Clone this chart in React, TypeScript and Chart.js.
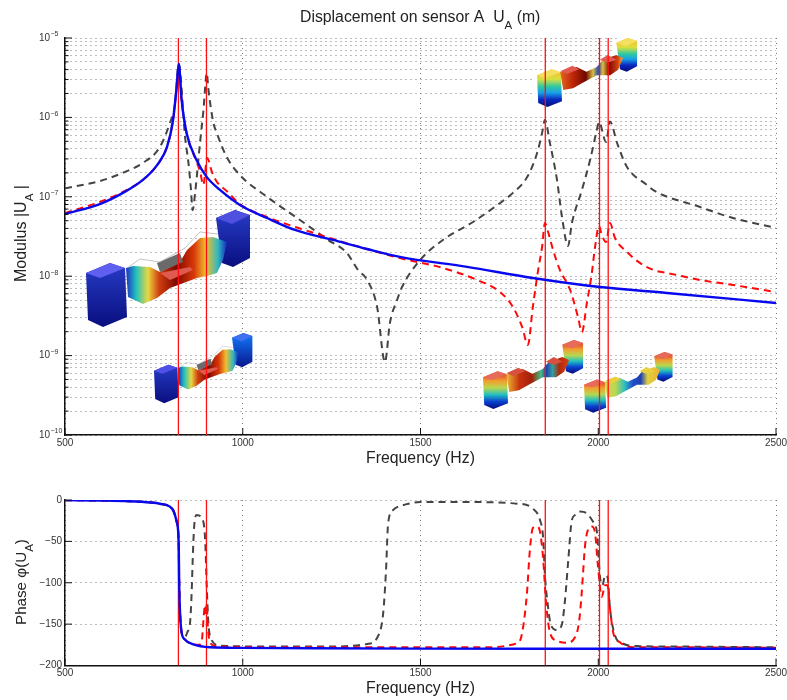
import React, { useEffect, useRef } from "react";
import { Chart, registerables } from "chart.js";

Chart.register(...registerables);

const xTickValues = [500, 1000, 1500, 2000, 2500];
const resonanceFreqs = [819, 898, 1851, 2003.5, 2028];

const modulusTicks = [
  1e-10, 2e-10, 3e-10, 4e-10, 5e-10, 6e-10, 7e-10, 8e-10, 9e-10,
  1e-9, 2e-9, 3e-9, 4e-9, 5e-9, 6e-9, 7e-9, 8e-9, 9e-9,
  1e-8, 2e-8, 3e-8, 4e-8, 5e-8, 6e-8, 7e-8, 8e-8, 9e-8,
  1e-7, 2e-7, 3e-7, 4e-7, 5e-7, 6e-7, 7e-7, 8e-7, 9e-7,
  1e-6, 2e-6, 3e-6, 4e-6, 5e-6, 6e-6, 7e-6, 8e-6, 9e-6,
  1e-5,
];
const modulusDecades = [1e-10, 1e-9, 1e-8, 1e-7, 1e-6, 1e-5];
const decadeExponents = ["\u221210", "\u22129", "\u22128", "\u22127", "\u22126", "\u22125"];
const phaseTicks = [-200, -150, -100, -50, 0];

const blueModFreq = [500, 598, 663, 719, 759, 787, 804, 814, 820, 828, 842, 870, 899, 936, 992, 1068, 1147, 1254, 1350, 1442, 1631, 1816, 2005, 2193, 2500];
const blueMod = [6.07e-8, 8.1e-8, 1.12e-7, 1.63e-7, 2.51e-7, 4.24e-7, 9.27e-7, 2.41e-6, 4.7e-6, 1.66e-6, 6.36e-7, 2.9e-7, 1.77e-7, 1.22e-7, 7.9e-8, 5.41e-8, 3.82e-8, 2.86e-8, 2.2e-8, 1.75e-8, 1.31e-8, 9.5e-9, 7.3e-9, 6.14e-9, 4.6e-9];

const redModFreq = [500, 598, 663, 719, 759, 787, 804, 814, 820, 828, 842, 868, 880, 889, 900, 913, 927, 955, 992, 1068, 1161, 1254, 1358, 1442, 1563, 1659, 1724, 1760, 1786, 1802, 1816, 1831, 1842, 1850, 1859, 1873, 1892, 1921, 1943, 1954, 1968, 1982, 1991, 2002, 2010, 2022, 2033, 2047, 2081, 2117, 2165, 2193, 2286, 2379, 2500];
const redMod = [6.25e-8, 8.6e-8, 1.15e-7, 1.63e-7, 2.51e-7, 4.24e-7, 9.27e-7, 2.41e-6, 4.7e-6, 1.66e-6, 6.36e-7, 2.9e-7, 2.07e-7, 1.41e-7, 3.08e-7, 2.07e-7, 1.55e-7, 1.18e-7, 8.1e-8, 5.57e-8, 3.99e-8, 2.94e-8, 2.14e-8, 1.69e-8, 1.27e-8, 8.96e-9, 6.32e-9, 4.09e-9, 2.29e-9, 1.36e-9, 4.09e-9, 1.2e-8, 2.33e-8, 4.68e-8, 3.6e-8, 2.14e-8, 1.2e-8, 6.7e-9, 3.06e-9, 1.98e-9, 4.6e-9, 1.1e-8, 2.33e-8, 4.29e-8, 3.3e-8, 2.7e-8, 4.68e-8, 3.03e-8, 2.02e-8, 1.47e-8, 1.16e-8, 1.1e-8, 8.96e-9, 7.75e-9, 6.32e-9];

const blackModFreq = [500, 598, 663, 719, 767, 795, 809, 820, 838, 847, 854, 859, 866, 880, 889, 899, 903, 917, 927, 955, 992, 1068, 1161, 1240, 1293, 1324, 1350, 1378, 1400, 1414, 1434, 1448, 1499, 1563, 1648, 1724, 1760, 1800, 1828, 1842, 1850, 1864, 1884, 1898, 1915, 1926, 1954, 1977, 1996, 2002, 2022, 2033, 2053, 2081, 2137, 2154, 2286, 2379, 2500];
const blackMod = [1.28e-7, 1.58e-7, 2.01e-7, 2.67e-7, 4.24e-7, 8.5e-7, 1.43e-6, 4.7e-6, 5.5e-7, 2.74e-7, 1.29e-7, 6.8e-8, 1.12e-7, 4.9e-7, 1.17e-6, 3.62e-6, 2.34e-6, 8.75e-7, 6.36e-7, 3.17e-7, 1.88e-7, 1e-7, 5.1e-8, 2.86e-8, 1.96e-8, 1.2e-8, 8.96e-9, 4.09e-9, 8.3e-10, 2.58e-9, 5e-9, 7.3e-9, 1.6e-8, 2.86e-8, 4.82e-8, 8.36e-8, 1.12e-7, 1.77e-7, 3.56e-7, 6.36e-7, 9.3e-7, 4.76e-7, 1.63e-7, 5.57e-8, 2.4e-8, 4.68e-8, 1.22e-7, 2.9e-7, 6.94e-7, 8.75e-7, 4.9e-7, 8.9e-7, 4.76e-7, 2.37e-7, 1.41e-7, 1.22e-7, 7.44e-8, 5.41e-8, 4.05e-8];

const bluePhaseFreq = [500, 600, 680, 740, 767, 795, 805, 814, 820, 821, 823.5, 828, 837, 861, 908, 1000, 1200, 1500, 2000, 2500];
const bluePhase = [-0.2, -0.7, -1.5, -3, -4.5, -8, -13, -26, -55, -95, -135, -160, -168.5, -174.5, -178, -178.7, -179.2, -179.6, -179.7, -179.8];

const redPhaseFreq = [500, 600, 680, 740, 767, 795, 805, 814, 820, 821, 823.5, 828, 837, 861, 875, 884, 894, 897, 899, 901, 908, 922, 1100, 1704, 1743, 1771, 1780, 1788, 1799, 1808, 1816, 1827, 1836, 1845, 1853, 1864, 1883, 1911, 1935, 1946, 1953, 1963, 1971, 1982, 1991, 1999, 2010, 2019, 2026, 2033, 2042, 2061, 2098, 2193, 2500];
const redPhase = [-0.2, -0.7, -1.5, -3, -4.5, -8, -13, -26, -55, -95, -135, -160, -168.5, -174.5, -175, -172, -127, -139, -125, -147, -172, -176.5, -178, -178, -176, -173, -170, -155.6, -115, -58.6, -34, -32, -38, -71, -123, -160, -170, -172.5, -165.6, -147.5, -115, -54.5, -36, -32, -40, -79, -117, -103, -103, -131, -160, -172, -178, -178, -178.5];

const blackPhaseFreq = [500, 600, 680, 740, 767, 795, 805, 814, 820, 821, 823.5, 828, 838, 844, 852, 856, 859, 863, 870, 885, 894, 899, 903, 910, 936, 1068, 1254, 1350, 1380, 1395, 1403, 1409, 1423, 1462, 1499, 1631, 1771, 1816, 1836, 1845, 1850, 1857, 1866, 1883, 1897, 1906, 1916, 1925, 1935, 1949, 1967, 1985, 1996, 2005, 2012, 2019, 2026, 2033, 2047, 2070, 2108, 2193, 2500];
const blackPhase = [-0.2, -0.7, -1.5, -3, -4.5, -8, -13, -26, -55, -95, -135, -160, -165, -160, -147, -115, -75, -34, -18, -22, -46, -107, -147, -167, -176, -177, -177, -174, -165, -137, -85, -28, -12, -5, -2.5, -2.5, -4.4, -10.4, -24, -46, -91, -123, -149.5, -157, -151.5, -123, -71, -26, -18, -14, -16, -26, -38, -93, -103, -91, -93, -131, -163.6, -173.7, -176.5, -177, -178];

const FONT = '"Liberation Sans", Arial, sans-serif';
const TEXT = "#222";
const TICK_TEXT = "#333";
const GRID = "#7a7a7a";
const GRID_DASH = [1, 4];

Chart.defaults.font.family = FONT;

const zip = (xs: number[], ys: number[]) => xs.map((x, i) => ({ x, y: ys[i] }));

function curve(label: string, xs: number[], ys: number[], color: string, width: number, dash: number[], order: number) {
  return {
    label,
    data: zip(xs, ys),
    borderColor: color,
    borderWidth: width,
    borderDash: dash,
    cubicInterpolationMode: "monotone" as const,
    pointRadius: 0,
    fill: false,
    order,
  };
}

function verticals(yMin: number, yMax: number) {
  return resonanceFreqs.map((f, i) => ({
    label: "mode " + (i + 1),
    data: [{ x: f, y: yMin }, { x: f, y: yMax }],
    borderColor: "#ff1010",
    borderWidth: 1.3,
    pointRadius: 0,
    fill: false,
    order: 1,
  }));
}

type Part = { t: string; sub?: boolean };

function richText(ctx: CanvasRenderingContext2D, parts: Part[], x: number, y: number, size: number, subSize: number, drop: number) {
  let cx = x;
  ctx.textAlign = "left";
  ctx.textBaseline = "alphabetic";
  ctx.fillStyle = TEXT;
  for (const p of parts) {
    ctx.font = `${p.sub ? subSize : size}px ${FONT}`;
    ctx.fillText(p.t, cx, p.sub ? y + drop : y);
    cx += ctx.measureText(p.t).width;
  }
}

function rotatedLabel(ctx: CanvasRenderingContext2D, parts: Part[], x: number, y: number, size: number) {
  ctx.save();
  ctx.translate(x, y);
  ctx.rotate(-Math.PI / 2);
  richText(ctx, parts, 0, 0, size, 11.5, 7);
  ctx.restore();
}

function innerTicks(chart: any) {
  const { ctx, scales, chartArea } = chart;
  ctx.save();
  ctx.strokeStyle = "#111";
  ctx.lineWidth = 1;
  ctx.setLineDash([]);
  for (const t of scales.x.ticks) {
    const px = scales.x.getPixelForValue(t.value);
    ctx.beginPath();
    ctx.moveTo(px, chartArea.bottom);
    ctx.lineTo(px, chartArea.bottom - 7);
    ctx.stroke();
  }
  const isLog = scales.y.type === "logarithmic";
  for (const t of scales.y.ticks) {
    const py = scales.y.getPixelForValue(t.value);
    const major = !isLog || modulusDecades.some((d) => Math.abs(d - t.value) < d * 1e-6);
    ctx.beginPath();
    ctx.moveTo(chartArea.left, py);
    ctx.lineTo(chartArea.left + (major ? 7 : 3.5), py);
    ctx.stroke();
  }
  ctx.restore();
}

// Pictures of the deformed structure (finite-element mode shapes) set inside the top plot.
type Stops = [number, string][];
type Inset = {
  tx: number; ty: number; sx: number; sy: number;
  leftFront: Stops; rightFront: Stops; leftTop: string; rightTop: string;
  beam: Stops; narrow: boolean; plate: string; ghost: boolean;
};

const BLUE_BLOCK: Stops = [[0, "#2438c0"], [1, "#0a0f80"]];
const RAINBOW_Y: Stops = [[0, "#f6c030"], [0.2, "#d8e040"], [0.42, "#30c8a0"], [0.6, "#18a0e8"], [0.8, "#0a28c0"], [1, "#061080"]];
const RAINBOW_R: Stops = [[0, "#e04a30"], [0.2, "#f0a030"], [0.4, "#b8d850"], [0.6, "#20c0c0"], [0.8, "#0a40d0"], [1, "#061080"]];

const insets: Inset[] = [
  { tx: 0, ty: 0, sx: 1, sy: 1, leftFront: BLUE_BLOCK, rightFront: BLUE_BLOCK, leftTop: "#6060f0", rightTop: "#5050e0", narrow: false, plate: "#e05a50", ghost: true,
    beam: [[0, "#2030c0"], [0.1, "#20c0c0"], [0.22, "#e8d840"], [0.33, "#d04010"], [0.5, "#800800"], [0.68, "#d83808"], [0.8, "#f0c030"], [0.92, "#30b8c0"], [1, "#1838c0"]] },
  { tx: 154 - 86 * 0.6, ty: 333 - 210 * 0.6, sx: 0.6, sy: 0.6, leftFront: BLUE_BLOCK, rightFront: [[0, "#1070f0"], [1, "#0a1890"]], leftTop: "#5050e8", rightTop: "#4070f0", narrow: false, plate: "#e05a50", ghost: true,
    beam: [[0, "#2030c0"], [0.1, "#20c0c0"], [0.22, "#e8d840"], [0.33, "#d04010"], [0.5, "#800800"], [0.68, "#d83808"], [0.8, "#f0c030"], [0.92, "#30b8c0"], [1, "#1838c0"]] },
  { tx: 537 - 86 * 0.61, ty: 38 - 210 * 0.59, sx: 0.61, sy: 0.59, leftFront: RAINBOW_Y, rightFront: RAINBOW_Y, leftTop: "#f4e060", rightTop: "#f4e060", narrow: true, plate: "#e05a50", ghost: false,
    beam: [[0, "#e06020"], [0.18, "#c02808"], [0.4, "#700800"], [0.52, "#d8c040"], [0.6, "#2050c0"], [0.68, "#d8c040"], [0.78, "#800800"], [0.92, "#d04010"], [1, "#f0a030"]] },
  { tx: 483 - 86 * 0.61, ty: 340 - 210 * 0.59, sx: 0.61, sy: 0.59, leftFront: RAINBOW_R, rightFront: RAINBOW_R, leftTop: "#e86a5a", rightTop: "#e86a5a", narrow: true, plate: "#d85040", ghost: false,
    beam: [[0, "#e8b030"], [0.2, "#c83010"], [0.4, "#a02008"], [0.55, "#40c080"], [0.64, "#2040b0"], [0.74, "#30a0a0"], [0.85, "#b02808"], [1, "#d84010"]] },
  { tx: 584 - 86 * 0.54, ty: 352 - 210 * 0.52, sx: 0.54, sy: 0.52, leftFront: RAINBOW_R, rightFront: RAINBOW_R, leftTop: "#e86a5a", rightTop: "#e86a5a", narrow: true, plate: "#e8d040", ghost: false,
    beam: [[0, "#e0d050"], [0.18, "#b8d850"], [0.35, "#30c0c0"], [0.5, "#2050c8"], [0.65, "#2040b0"], [0.78, "#e0d040"], [1, "#f0b030"]] },
];

const LEFT_BLOCK = [[86, 273], [110, 263], [125, 268], [127, 317], [103, 327], [88, 320]];
const LEFT_TOP = [[86, 273], [110, 263], [125, 268], [100, 278]];
const RIGHT_BLOCK = [[216, 218], [235, 210], [250, 215], [250, 258], [233, 267], [222, 263]];
const RIGHT_TOP = [[216, 218], [235, 210], [250, 215], [232, 224]];
const WIDE_BEAM = [[126, 268], [133, 266], [150, 267], [160, 272], [180, 262], [187, 250], [200, 238], [213, 237], [227, 242], [223, 260], [217, 273], [207, 276], [197, 278], [170, 288], [157, 298], [143, 304], [128, 297]];
const NARROW_BEAM = [[124, 267], [151, 259], [167, 267], [184, 259], [194, 247], [216, 239], [227, 244], [219, 264], [206, 273], [184, 273], [161, 286], [145, 295], [129, 298]];
const GREY_PLATE = [[157, 263], [180, 253], [183, 262], [160, 272]];
const RED_PLATE = [[160, 273], [190, 267], [193, 270], [170, 280]];
const PLATE_L = [[125, 266], [144, 257], [155, 263], [135, 271]];
const PLATE_R = [[189, 247], [202, 239], [217, 247], [201, 252]];
const GHOST = [[127, 268], [140, 259], [160, 262], [185, 248], [200, 232], [218, 234]];

function poly(ctx: CanvasRenderingContext2D, pts: number[][]) {
  ctx.beginPath();
  pts.forEach((p, i) => (i ? ctx.lineTo(p[0], p[1]) : ctx.moveTo(p[0], p[1])));
  ctx.closePath();
}

function gradient(ctx: CanvasRenderingContext2D, x0: number, y0: number, x1: number, y1: number, stops: Stops) {
  const g = ctx.createLinearGradient(x0, y0, x1, y1);
  stops.forEach(([o, c]) => g.addColorStop(o, c));
  return g;
}

function drawInset(ctx: CanvasRenderingContext2D, n: Inset) {
  ctx.save();
  ctx.transform(n.sx, 0, 0, n.sy, n.tx, n.ty);
  ctx.filter = "blur(0.6px)";
  ctx.lineJoin = "round";
  if (!n.ghost) {
    ctx.strokeStyle = "rgba(255,255,255,0.95)";
    ctx.lineWidth = 9;
    for (const s of [LEFT_BLOCK, RIGHT_BLOCK, NARROW_BEAM]) {
      poly(ctx, s);
      ctx.stroke();
    }
  }
  ctx.fillStyle = gradient(ctx, 0, 268, 0, 326, n.leftFront);
  poly(ctx, LEFT_BLOCK);
  ctx.fill();
  ctx.fillStyle = gradient(ctx, 0, 216, 0, 266, n.rightFront);
  poly(ctx, RIGHT_BLOCK);
  ctx.fill();
  ctx.fillStyle = n.leftTop;
  poly(ctx, LEFT_TOP);
  ctx.fill();
  ctx.fillStyle = n.rightTop;
  poly(ctx, RIGHT_TOP);
  ctx.fill();
  ctx.fillStyle = gradient(ctx, 126, 0, 226, 0, n.beam);
  poly(ctx, n.narrow ? NARROW_BEAM : WIDE_BEAM);
  ctx.fill();
  if (n.narrow) {
    ctx.fillStyle = n.plate;
    poly(ctx, PLATE_L);
    ctx.fill();
    poly(ctx, PLATE_R);
    ctx.fill();
  } else {
    ctx.fillStyle = "#6a6a6a";
    poly(ctx, GREY_PLATE);
    ctx.fill();
    ctx.fillStyle = n.plate;
    poly(ctx, RED_PLATE);
    ctx.fill();
  }
  if (n.ghost) {
    ctx.strokeStyle = "rgba(170,170,170,0.7)";
    ctx.lineWidth = 1;
    ctx.beginPath();
    GHOST.forEach((p, i) => (i ? ctx.lineTo(p[0], p[1]) : ctx.moveTo(p[0], p[1])));
    ctx.stroke();
  }
  ctx.restore();
}

const modulusDecor = {
  id: "modulusDecor",
  beforeDatasetsDraw(chart: any) {
    const { ctx } = chart;
    insets.forEach((n) => drawInset(ctx, n));
  },
  afterDatasetsDraw(chart: any) {
    innerTicks(chart);
  },
  afterDraw(chart: any) {
    const { ctx, scales } = chart;
    ctx.save();
    richText(ctx, [{ t: "Displacement on sensor A  U" }, { t: "A", sub: true }, { t: " (m)" }], 300, 22, 15.8, 11.5, 7);
    rotatedLabel(ctx, [{ t: "Modulus |U" }, { t: "A", sub: true }, { t: " |" }], 26, 282, 16);
    ctx.fillStyle = TICK_TEXT;
    ctx.font = `7px ${FONT}`;
    ctx.textAlign = "left";
    ctx.textBaseline = "middle";
    modulusDecades.forEach((d, i) => {
      ctx.fillText(decadeExponents[i], 50.5, scales.y.getPixelForValue(d) - 3.5);
    });
    ctx.restore();
  },
};

const phaseDecor = {
  id: "phaseDecor",
  afterDatasetsDraw(chart: any) {
    innerTicks(chart);
  },
  afterDraw(chart: any) {
    const { ctx } = chart;
    ctx.save();
    rotatedLabel(ctx, [{ t: "Phase \u03C6(U" }, { t: "A", sub: true }, { t: ")" }], 26, 150, 15.2);
    ctx.restore();
  },
};

function xScale() {
  return {
    type: "linear" as const,
    min: 500,
    max: 2500,
    afterBuildTicks(s: any) {
      s.ticks = xTickValues.map((value) => ({ value }));
    },
    afterFit(s: any) {
      s.height = 33;
      s.paddingRight = 0;
      s.paddingLeft = 0;
    },
    ticks: {
      autoSkip: false,
      maxRotation: 0,
      padding: 2,
      color: TICK_TEXT,
      font: { size: 10 },
      callback: (v: any) => String(v),
    },
    grid: { color: GRID, lineWidth: 1, drawTicks: false },
    border: { display: true, color: "#111", width: 1.5, dash: GRID_DASH },
    title: { display: true, text: "Frequency (Hz)", color: TEXT, font: { size: 15.8 }, padding: 0 },
  };
}

export default function App() {
  const topRef = useRef<HTMLCanvasElement>(null);
  const bottomRef = useRef<HTMLCanvasElement>(null);

  useEffect(() => {
    const top = new Chart(topRef.current!, {
      type: "line",
      data: {
        datasets: [
          curve("Curve 3", blueModFreq, blueMod, "#0808ee", 2.4, [], 0),
          ...verticals(1e-10, 1e-5),
          curve("Curve 2", redModFreq, redMod, "#ff0808", 2, [7, 5], 2),
          curve("Curve 1", blackModFreq, blackMod, "#444444", 2, [7, 5], 3),
        ],
      } as any,
      options: {
        responsive: false,
        animation: false,
        devicePixelRatio: 1,
        layout: { padding: { left: 0, top: 38, right: 11, bottom: 7 } },
        plugins: { legend: { display: false }, title: { display: false }, tooltip: { enabled: false } },
        scales: {
          x: xScale(),
          y: {
            type: "logarithmic",
            min: 1e-10,
            max: 1e-5,
            afterBuildTicks(s: any) {
              s.ticks = modulusTicks.map((value) => ({ value }));
            },
            afterFit(s: any) {
              s.width = 65;
              s.paddingTop = 0;
              s.paddingBottom = 0;
            },
            ticks: {
              autoSkip: false,
              padding: 15,
              color: TICK_TEXT,
              font: { size: 10 },
              callback: (v: any) => (modulusDecades.some((d) => Math.abs(d - v) < d * 1e-6) ? "10" : ""),
            },
            grid: { color: GRID, lineWidth: 1, drawTicks: false },
            border: { display: true, color: "#111", width: 1.5, dash: GRID_DASH },
          },
        },
      } as any,
      plugins: [modulusDecor],
    });

    const bottom = new Chart(bottomRef.current!, {
      type: "line",
      data: {
        datasets: [
          curve("Curve 3", bluePhaseFreq, bluePhase, "#0808ee", 2.4, [], 0),
          ...verticals(-200, 0),
          curve("Curve 2", redPhaseFreq, redPhase, "#ff0808", 2, [7, 5], 2),
          curve("Curve 1", blackPhaseFreq, blackPhase, "#444444", 2, [7, 5], 3),
        ],
      } as any,
      options: {
        responsive: false,
        animation: false,
        devicePixelRatio: 1,
        layout: { padding: { left: 0, top: 25, right: 11, bottom: 1.5 } },
        plugins: { legend: { display: false }, title: { display: false }, tooltip: { enabled: false } },
        scales: {
          x: xScale(),
          y: {
            type: "linear",
            min: -200,
            max: 0,
            afterBuildTicks(s: any) {
              s.ticks = phaseTicks.map((value) => ({ value }));
            },
            afterFit(s: any) {
              s.width = 65;
              s.paddingTop = 0;
              s.paddingBottom = 0;
            },
            ticks: {
              autoSkip: false,
              padding: 3,
              color: TICK_TEXT,
              font: { size: 10 },
              callback: (v: any) => (v < 0 ? "\u2212" + Math.abs(v) : String(v)),
            },
            grid: { color: GRID, lineWidth: 1, drawTicks: false },
            border: { display: true, color: "#111", width: 1.5, dash: GRID_DASH },
          },
        },
      } as any,
      plugins: [phaseDecor],
    });

    return () => {
      top.destroy();
      bottom.destroy();
    };
  }, []);

  const soft = { position: "absolute" as const, left: 0, filter: "blur(0.3px)" };
  return (
    <div style={{ position: "absolute", left: 0, top: 0, width: 787, height: 700, background: "#fff" }}>
      <canvas ref={topRef} width={787} height={475} style={{ ...soft, top: 0 }} />
      <canvas ref={bottomRef} width={787} height={225} style={{ ...soft, top: 475 }} />
    </div>
  );
}
